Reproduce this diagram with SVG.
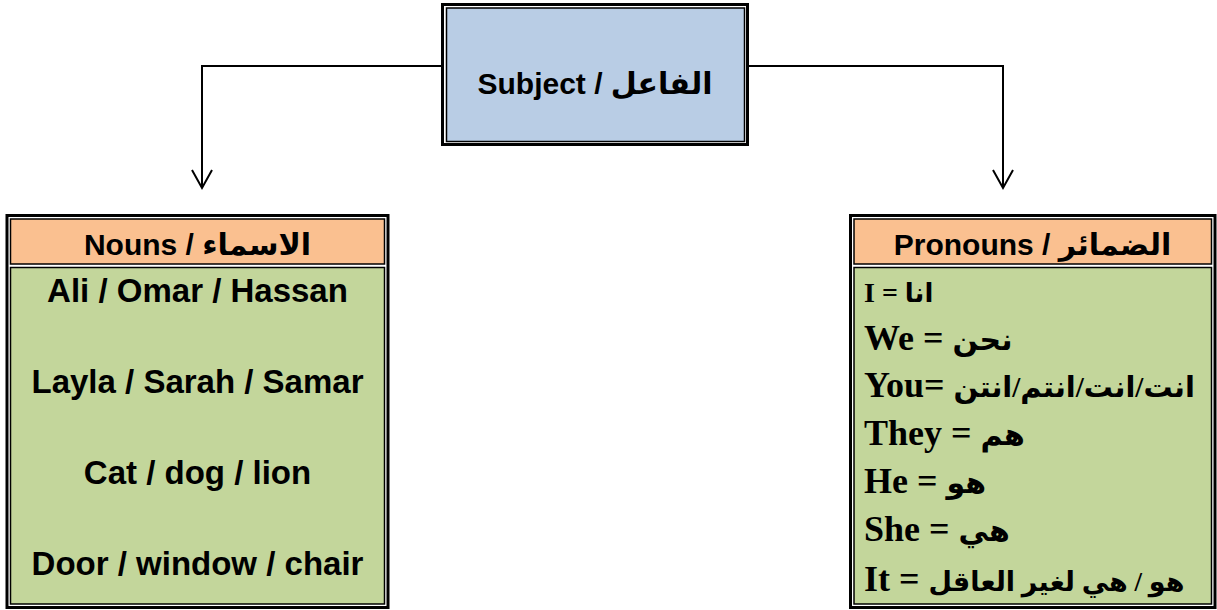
<svg xmlns="http://www.w3.org/2000/svg" width="1217" height="610" viewBox="0 0 1217 610">
<style>
.outer{fill:#fff;stroke:#000;stroke-width:3}
.inner{stroke:#000;stroke-width:1.5}
.blue{fill:#B9CDE5}
.peach{fill:#FAC090}
.green{fill:#C3D69B}
.hd{font-family:"Liberation Sans","DejaVu Sans",sans-serif;font-weight:bold;font-size:30px;fill:#000;text-anchor:middle}
.nn{font-family:"Liberation Sans","DejaVu Sans",sans-serif;font-weight:bold;font-size:33px;fill:#000;text-anchor:middle}
.pr{font-family:"Liberation Serif","DejaVu Sans",serif;font-weight:bold;font-size:36px;fill:#000}
.ar{font-size:30px}
.conn{fill:none;stroke:#000;stroke-width:2}
</style>
<defs>
<marker id="vhead" viewBox="-20 -12 22 24" refX="0" refY="0" markerWidth="22" markerHeight="24" markerUnits="userSpaceOnUse" orient="auto" overflow="visible">
<path d="M-18,-10 L0,0 L-18,10" fill="none" stroke="#000" stroke-width="2"/>
</marker>
</defs>
<g id="connectors">
<path class="conn" d="M442,66 H202 V188" marker-end="url(#vhead)"/>
<path class="conn" d="M748,66 H1003 V188" marker-end="url(#vhead)"/>
</g>
<g id="subject">
<rect class="outer" x="442.5" y="4.5" width="305" height="140"/>
<rect class="inner blue" x="446.5" y="8" width="298" height="133.5"/>
<text class="hd" x="595" y="94">Subject / الفاعل</text>
</g>
<g id="nouns">
<rect class="outer" x="7" y="215.5" width="381" height="392"/>
<rect class="inner peach" x="10.5" y="219" width="374" height="45"/>
<rect class="inner green" x="10.5" y="267.5" width="374" height="336.5"/>
<text class="hd" x="197.5" y="255">Nouns / الاسماء</text>
<text class="nn" x="197.5" y="302">Ali / Omar / Hassan</text>
<text class="nn" x="197.5" y="393">Layla / Sarah / Samar</text>
<text class="nn" x="197.5" y="484">Cat / dog / lion</text>
<text class="nn" x="197.5" y="575">Door / window / chair</text>
</g>
<g id="pronouns">
<rect class="outer" x="850.5" y="215.5" width="364.5" height="392"/>
<rect class="inner peach" x="854" y="219" width="357.5" height="45"/>
<rect class="inner green" x="854" y="267.5" width="357.5" height="336.5"/>
<text class="hd" x="1032.5" y="255">Pronouns / الضمائر</text>
<text class="pr" x="864" y="302" style="font-size:28px">I = <tspan style="font-size:26px">انا</tspan></text>
<text class="pr" x="864" y="350">We = <tspan class="ar">نحن</tspan></text>
<text class="pr" x="864" y="397">You= <tspan style="font-size:29px">انت/انت/انتم/انتن</tspan></text>
<text class="pr" x="864" y="445">They = <tspan class="ar">هم</tspan></text>
<text class="pr" x="864" y="493">He = <tspan class="ar">هو</tspan></text>
<text class="pr" x="864" y="541">She = <tspan class="ar">هي</tspan></text>
<text class="pr" x="864" y="591">It = <tspan style="font-size:27px">هو / هي لغير العاقل</tspan></text>
</g>
</svg>
